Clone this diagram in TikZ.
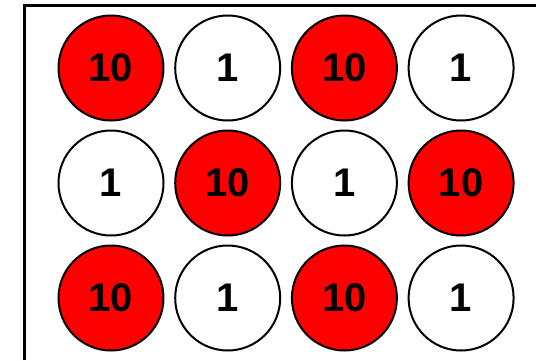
\documentclass[tikz,border=0pt]{standalone}
\usepackage{fontspec}
\setmainfont{Liberation Sans}
\begin{document}
\begin{tikzpicture}[x=1pt, y=-1pt]
    % Define colours
    \definecolor{borderColour}{HTML}{000000}
    \definecolor{heavyColour}{HTML}{FF0000}

    % Define grid spacing
    \def\colStep{116.7}
    \def\rowStep{115}

    \tikzset{
        weight/.style={circle, draw=borderColour, line width=2pt, minimum size=105pt, inner sep=0pt,
            font=\fontsize{40}{42}\selectfont\bfseries},
        heavy/.style={weight, fill=heavyColour},
        light/.style={weight, fill=white}
    }

    % Fix picture size
    \useasboundingbox (0,0) rectangle (536,360);

    % Draw frame (top and left edges)
    \draw[line width=2.4pt, borderColour] (24.5,360) -- (24.5,5.5) -- (536,5.5);

    % Draw the weights
    \foreach \r in {0,1,2}
        \foreach \c in {0,1,2,3} {
            \pgfmathtruncatemacro{\parity}{mod(\r+\c,2)}
            \ifnum\parity=0
                \node[heavy] (w\r\c) at (111+\c*\colStep, 68+\r*\rowStep) {10};
            \else
                \node[light] (w\r\c) at (111+\c*\colStep, 68+\r*\rowStep) {1};
            \fi
        }

\end{tikzpicture}
\end{document}
